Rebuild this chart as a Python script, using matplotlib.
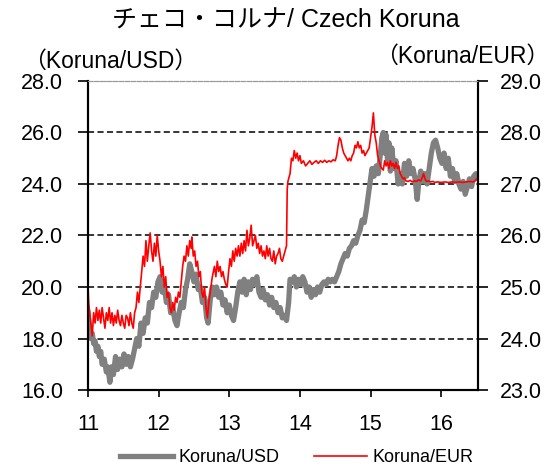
import numpy as np
import matplotlib.pyplot as plt

plt.rcParams['font.family'] = ['Liberation Sans', 'Noto Sans CJK JP', 'DejaVu Sans']

# Koruna/USD (left axis)
usd_t = [11.00, 11.02, 11.04, 11.06, 11.08, 11.10, 11.12, 11.14, 11.16, 11.18,
         11.20, 11.23, 11.26, 11.28, 11.31, 11.33, 11.36, 11.39, 11.42, 11.45,
         11.48, 11.51, 11.54, 11.57, 11.60, 11.63, 11.66, 11.69, 11.72, 11.75,
         11.78, 11.81, 11.84, 11.87, 11.90, 11.93, 11.96, 11.99, 12.02, 12.05,
         12.08, 12.11, 12.14, 12.17, 12.20, 12.23, 12.26, 12.29, 12.32, 12.35,
         12.38, 12.41, 12.44, 12.47, 12.50, 12.53, 12.56, 12.59, 12.62, 12.65,
         12.68, 12.70, 12.73, 12.76, 12.79, 12.82, 12.85, 12.88, 12.91, 12.94,
         12.97, 13.00, 13.03, 13.06, 13.09, 13.12, 13.15, 13.18, 13.21, 13.24,
         13.27, 13.30, 13.33, 13.36, 13.39, 13.42, 13.45, 13.48, 13.51, 13.54,
         13.57, 13.60, 13.63, 13.66, 13.69, 13.72, 13.75, 13.78, 13.81, 13.84,
         13.86, 13.89, 13.92, 13.95, 13.98, 14.01, 14.04, 14.07, 14.10, 14.13,
         14.16, 14.19, 14.22, 14.25, 14.28, 14.31, 14.34, 14.37, 14.40, 14.43,
         14.46, 14.49, 14.52, 14.55, 14.58, 14.61, 14.64, 14.67, 14.70, 14.73,
         14.76, 14.79, 14.82, 14.85, 14.88, 14.91, 14.94, 14.97, 15.00, 15.02,
         15.05, 15.08, 15.11, 15.14, 15.16, 15.18, 15.20, 15.22, 15.24, 15.26,
         15.28, 15.30, 15.33, 15.36, 15.39, 15.42, 15.45, 15.48, 15.51, 15.54,
         15.57, 15.60, 15.63, 15.66, 15.68, 15.71, 15.74, 15.77, 15.80, 15.83,
         15.86, 15.89, 15.92, 15.95, 15.98, 16.01, 16.04, 16.07, 16.10, 16.13,
         16.16, 16.19, 16.22, 16.25, 16.28, 16.31, 16.34, 16.37, 16.40, 16.43,
         16.46, 16.49, 16.52]
usd_val = [19.0, 18.4, 18.0, 18.2, 17.8, 17.9, 17.5, 17.7, 17.3, 17.5,
           17.0, 17.2, 16.7, 16.9, 16.3, 16.9, 16.6, 17.3, 16.8, 17.2,
           16.9, 17.4, 17.0, 17.3, 16.9, 17.2, 17.6, 18.0, 17.7, 18.6,
           18.2, 18.8, 18.6, 19.4, 19.2, 19.8, 19.6, 20.2, 20.4, 19.8,
           20.0, 19.4, 19.7, 19.0, 19.2, 18.7, 18.5, 19.0, 19.4, 19.2,
           19.9, 20.3, 20.9, 20.6, 20.2, 20.5, 19.9, 20.0, 19.4, 19.6,
           18.8, 18.6, 19.5, 20.0, 19.7, 20.0, 19.6, 19.8, 19.3, 19.5,
           19.0, 19.3, 18.9, 18.7, 19.2, 19.8, 20.2, 19.8, 20.3, 19.7,
           20.2, 19.9, 20.3, 20.1, 20.4, 19.8, 19.6, 19.9, 19.5, 19.7,
           19.3, 19.6, 19.2, 19.4, 19.0, 19.2, 18.8, 18.9, 18.7, 19.4,
           20.3, 20.2, 20.4, 20.0, 20.3, 20.1, 20.4, 20.2, 19.8, 20.0,
           19.6, 19.9, 19.7, 20.0, 19.8, 20.1, 20.2, 20.1, 20.3, 20.2,
           20.3, 20.2, 20.4, 20.6, 20.9, 21.1, 21.3, 21.2, 21.5, 21.6,
           21.8, 21.7, 22.0, 22.2, 22.6, 22.5, 23.0, 23.6, 24.2, 24.6,
           24.3, 24.7, 24.4, 25.2, 25.8, 26.0, 25.2, 25.9, 24.9, 25.6,
           24.5, 25.4, 24.6, 24.9, 24.0, 24.4, 24.0, 24.8, 24.3, 24.9,
           24.4, 24.6, 24.2, 23.4, 24.0, 24.5, 24.1, 24.4, 24.0, 24.6,
           25.2, 25.6, 25.7, 25.4, 25.0, 24.8, 25.2, 24.6, 25.0, 24.3,
           24.6, 24.1, 24.4, 24.0, 23.8, 24.1, 23.6, 23.9, 24.2, 23.9,
           24.3, 24.4, 24.3]

# Koruna/EUR (right axis)
eur_t = [11.00, 11.01, 11.02, 11.04, 11.06, 11.08, 11.10, 11.12, 11.14, 11.16,
         11.18, 11.20, 11.22, 11.24, 11.26, 11.28, 11.30, 11.32, 11.34, 11.36,
         11.38, 11.40, 11.42, 11.44, 11.46, 11.48, 11.50, 11.52, 11.54, 11.56,
         11.58, 11.60, 11.62, 11.64, 11.66, 11.68, 11.70, 11.72, 11.74, 11.76,
         11.78, 11.80, 11.82, 11.84, 11.86, 11.88, 11.90, 11.92, 11.94, 11.96,
         11.98, 12.00, 12.02, 12.04, 12.06, 12.08, 12.10, 12.12, 12.14, 12.16,
         12.18, 12.20, 12.22, 12.24, 12.26, 12.28, 12.30, 12.32, 12.34, 12.36,
         12.38, 12.40, 12.42, 12.44, 12.46, 12.47, 12.49, 12.51, 12.53, 12.55,
         12.57, 12.59, 12.61, 12.63, 12.65, 12.67, 12.69, 12.71, 12.73, 12.76,
         12.79, 12.81, 12.83, 12.85, 12.87, 12.89, 12.91, 12.93, 12.95, 12.97,
         12.99, 13.01, 13.03, 13.05, 13.07, 13.09, 13.11, 13.13, 13.15, 13.17,
         13.19, 13.21, 13.23, 13.25, 13.27, 13.29, 13.31, 13.33, 13.35, 13.37,
         13.39, 13.41, 13.43, 13.45, 13.47, 13.49, 13.51, 13.53, 13.55, 13.57,
         13.59, 13.61, 13.63, 13.65, 13.67, 13.69, 13.71, 13.73, 13.75, 13.77,
         13.79, 13.81, 13.82, 13.83, 13.84, 13.86, 13.88, 13.90, 13.92, 13.94,
         13.96, 13.98, 14.00, 14.02, 14.05, 14.08, 14.11, 14.14, 14.17, 14.20,
         14.23, 14.26, 14.29, 14.32, 14.35, 14.38, 14.41, 14.44, 14.47, 14.50,
         14.52, 14.54, 14.56, 14.58, 14.60, 14.62, 14.64, 14.66, 14.68, 14.70,
         14.72, 14.74, 14.76, 14.78, 14.80, 14.82, 14.84, 14.86, 14.88, 14.90,
         14.92, 14.94, 14.96, 14.98, 15.00, 15.02, 15.04, 15.06, 15.08, 15.10,
         15.12, 15.14, 15.16, 15.18, 15.20, 15.22, 15.24, 15.26, 15.28, 15.30,
         15.32, 15.34, 15.36, 15.38, 15.40, 15.42, 15.44, 15.46, 15.48, 15.50,
         15.53, 15.56, 15.59, 15.62, 15.65, 15.68, 15.71, 15.73, 15.75, 15.77,
         15.79, 15.82, 15.85, 15.88, 15.91, 15.95, 16.00, 16.05, 16.10, 16.15,
         16.20, 16.25, 16.30, 16.35, 16.40, 16.45, 16.48, 16.50, 16.52]
eur_val = [25.0, 24.7, 24.55, 24.3, 24.05, 24.5, 24.3, 24.6, 24.35, 24.55,
           24.3, 24.6, 24.4, 24.2, 24.5, 24.35, 24.6, 24.3, 24.5, 24.25,
           24.45, 24.3, 24.55, 24.35, 24.25, 24.45, 24.3, 24.2, 24.45, 24.4,
           24.25, 24.5, 24.3, 24.2, 24.5, 24.6, 24.9, 24.7, 25.0, 25.3,
           25.6, 25.4, 25.9, 25.5, 25.8, 26.05, 25.7, 25.5, 25.85, 25.6,
           26.0, 25.7, 25.5, 25.2, 25.4, 25.0, 25.2, 24.8, 24.9, 24.6,
           24.5, 24.7, 24.55, 24.8, 24.7, 24.9, 24.8, 25.1, 25.4, 25.6,
           25.5, 25.8, 25.6, 25.9, 25.75, 25.97, 25.6, 25.7, 25.4, 25.5,
           25.2, 25.3, 24.9, 24.8, 25.0, 24.6, 24.4, 24.7, 24.9, 25.2,
           25.4, 25.2, 25.5, 25.3, 25.4, 25.2, 25.3, 25.15, 25.05, 25.0,
           25.3, 25.55, 25.4, 25.7, 25.5, 25.75, 25.6, 25.8, 25.6, 25.85,
           25.65, 25.9, 25.7, 26.1, 25.8, 25.95, 26.2, 25.8, 25.9, 26.0,
           25.75, 25.85, 25.65, 25.8, 25.6, 25.7, 25.55, 25.8, 25.6, 25.75,
           25.55, 25.5, 25.7, 25.45, 25.6, 25.65, 25.75, 25.55, 25.5, 25.6,
           25.7, 25.8, 26.9, 27.05, 27.1, 27.2, 27.5, 27.45, 27.65, 27.5,
           27.6, 27.45, 27.55, 27.4, 27.45, 27.35, 27.4, 27.45, 27.38, 27.42,
           27.45, 27.4, 27.45, 27.42, 27.46, 27.42, 27.45, 27.43, 27.47, 27.45,
           27.55, 27.75, 27.9, 27.85, 27.7, 27.6, 27.55, 27.5, 27.45, 27.5,
           27.45, 27.55, 27.6, 27.75, 27.7, 27.82, 27.7, 27.75, 27.6, 27.65,
           27.55, 27.6, 27.65, 27.7, 27.9, 28.1, 28.38, 27.95, 27.8, 27.55,
           27.45, 27.35, 27.3, 27.27, 27.45, 27.35, 27.42, 27.3, 27.45, 27.35,
           27.4, 27.3, 27.42, 27.3, 27.35, 27.2, 27.15, 27.1, 27.12, 27.06,
           27.05, 27.07, 27.04, 27.06, 27.05, 27.08, 27.06, 27.12, 27.2, 27.1,
           27.05, 27.06, 27.04, 27.05, 27.03, 27.04, 27.03, 27.04, 27.03, 27.04,
           27.03, 27.04, 27.03, 27.04, 27.05, 27.04, 27.06, 27.1, 27.05]

x_ticks = [11, 12, 13, 14, 15, 16]
usd_ticks = [16, 18, 20, 22, 24, 26, 28]
eur_ticks = [23, 24, 25, 26, 27, 28, 29]

fig = plt.figure(figsize=(5.5, 4.69), dpi=100)
ax = fig.add_axes([0.16, 0.1684, 0.709, 0.659])
ax2 = ax.twinx()

l1, = ax.plot(usd_t, usd_val, color='#808080', lw=3.8, label='Koruna/USD')
l2, = ax2.plot(eur_t, eur_val, color='#ff0000', lw=1.2, label='Koruna/EUR')

ax.set_xlim(11, 16.52)
ax.set_ylim(16, 28)
ax2.set_ylim(23, 29)
ax.set_xticks(x_ticks)
ax.set_yticks(usd_ticks)
ax2.set_yticks(eur_ticks)
ax.set_yticklabels(['%.1f' % v for v in usd_ticks])
ax2.set_yticklabels(['%.1f' % v for v in eur_ticks])

# dashed gridlines on the left scale
for v in usd_ticks[1:-1]:
    ax.axhline(v, color='black', lw=1.1, ls=(0, (4, 2.2)), zorder=0)

for a in (ax, ax2):
    a.spines['top'].set_color('#999999')
    a.spines['top'].set_linestyle((0, (4, 1.5)))
    a.spines['left'].set_linewidth(1.5)
    a.spines['right'].set_linewidth(1.5)
    a.spines['bottom'].set_linewidth(1.5)
ax.tick_params(axis='y', direction='out', length=7, width=1.2, labelsize=15.5, pad=11)
ax2.tick_params(axis='y', direction='out', length=7, width=1.2, labelsize=15.5, pad=9)
ax.tick_params(axis='x', direction='out', length=5, width=1.2, labelsize=15.5, pad=12)

fig.text(0.52, 0.955, 'チェコ・コルナ/ Czech Koruna', ha='center', va='center', fontsize=18)
fig.text(0.042, 0.870, '（Koruna/USD）', ha='left', va='center', fontsize=16.5)
fig.text(0.998, 0.881, '（Koruna/EUR）', ha='right', va='center', fontsize=16.5)

fig.legend(handles=[l1, l2], loc='center', bbox_to_anchor=(0.54, 0.024), ncol=2,
           frameon=False, fontsize=13, handlelength=2.9, columnspacing=1.9,
           handletextpad=0.35, borderaxespad=0)

plt.savefig('out.png', dpi=100)
